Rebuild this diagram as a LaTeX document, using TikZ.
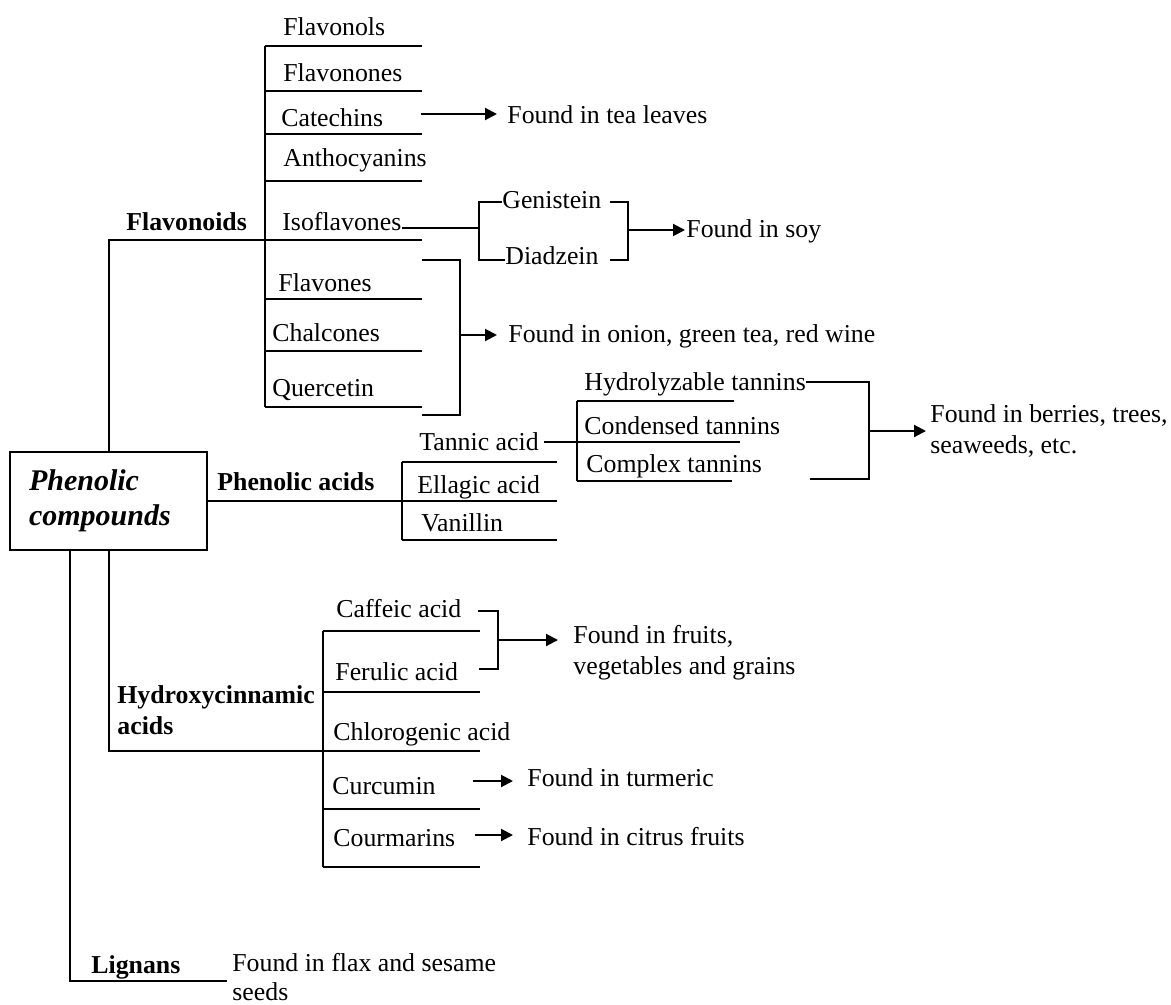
\documentclass[tikz,border=0pt]{standalone}
\usepackage{fontspec}
\setmainfont{Liberation Serif}
\usetikzlibrary{arrows.meta,positioning}
\tikzstyle{T} = [anchor=base west, inner sep=0pt,
			font=\fontsize{12.9}{15.5}\selectfont]
\tikzstyle{B} = [T, font=\fontsize{12.9}{15.5}\selectfont\bfseries]
\tikzstyle{N} = [T, anchor=west, align=left]
\tikzstyle{X} = [rectangle,
			draw, line width=1pt,
			minimum width=98.5pt, minimum height=49pt,
			inner xsep=9.5pt, text width=79.5pt, align=left,
			font=\fontsize{15}{17.5}\selectfont\bfseries\itshape]
\tikzstyle{L} = [draw, line width=1pt]
\tikzstyle{A} = [L, -{Triangle[length=6pt, width=6pt]}]

\begin{document}
\begin{tikzpicture}[x=0.5pt, y=-0.5pt]

\useasboundingbox (0,0) rectangle (1171,1005);

\node [X]
(box) at (108.5,501)
	{Phenolic\\compounds};

\node [B]
(flv) at (126,231)
	{Flavonoids};

\coordinate (flT) at (265,46);
\coordinate (flJ) at (265,240);
\coordinate (flB) at (265,407);

\path[L] (box.north) |- (flJ);

\path[L] (flT) -- (flB);

\node [T]
(fls) at (283,36)
	{Flavonols};

\node [T]
(fln) at (283,82)
	{Flavonones};

\node [T]
(cat) at (281,127)
	{Catechins};

\node [T]
(ant) at (283,167)
	{Anthocyanins};

\node [T]
(iso) at (282,231)
	{Isoflavones};

\node [T]
(fla) at (278,292)
	{Flavones};

\node [T]
(cha) at (272,342)
	{Chalcones};

\node [T]
(que) at (272,396)
	{Quercetin};

\path[L] (flT) -- (422,46);
\path[L] (265,91) -- (422,91);
\path[L] (265,134) -- (422,134);
\path[L] (265,181) -- (422,181);
\path[L] (flJ) -- (422,240);
\path[L] (265,299) -- (422,299);
\path[L] (265,351) -- (422,351);
\path[L] (flB) -- (422,407);

\node [T]
(tea) at (507,124)
	{Found in tea leaves};

\coordinate (catA) at (421,114);

\path[A, shorten >=5pt] (catA) -- (catA -| tea.west);

\node [T]
(gen) at (502,209)
	{Genistein};

\node [T]
(dia) at (505,265)
	{Diadzein};

\coordinate (isoJ) at (479,228);
\coordinate (gbT) at (479,202);
\coordinate (gbB) at (479,260);

\path[L] (iso.east |- isoJ) -- (isoJ);

\path[L] (gen.west |- gbT) -- (gbT) -- (gbB) -- (dia.west |- gbB);

\coordinate (grT) at (628,202);
\coordinate (grM) at (628,230);
\coordinate (grB) at (628,260);

\path[L] ([xshift=4pt]gen.east |- grT) -- (grT) -- (grB) -- ([xshift=5.5pt]dia.east |- grB);

\node [T]
(soy) at (686,238)
	{Found in soy};

\path[A, shorten >=0.5pt] (grM) -- (grM -| soy.west);

\coordinate (fbT) at (460,260);
\coordinate (fbM) at (460,335);
\coordinate (fbB) at (460,415);

\path[L] (422,260) -- (fbT) -- (fbB) -- (422,415);

\node [T]
(oni) at (508,343)
	{Found in onion, green tea, red wine};

\path[A, shorten >=5.5pt] (fbM) -- (fbM -| oni.west);

\node [B]
(pac) at (217,490)
	{Phenolic acids};

\coordinate (paT) at (402,462);
\coordinate (paJ) at (402,501);
\coordinate (paB) at (402,540);

\path[L] (box.east) -- (paJ);

\path[L] (paT) -- (paB);

\node [T]
(tan) at (419,450)
	{Tannic acid};

\node [T]
(ell) at (417,493)
	{Ellagic acid};

\node [T]
(van) at (421,531)
	{Vanillin};

\path[L] (paT) -- (557,462);
\path[L] (paJ) -- (557,501);
\path[L] (paB) -- (557,540);

\coordinate (tnT) at (577,401);
\coordinate (tnB) at (577,481);
\coordinate (tnR) at (740,442);

\path[L] (tnT) -- (tnB);

\path[L] ([xshift=2.5pt]tan.east |- tnR) -- (tnR);

\node [T]
(hyd) at (584,390)
	{Hydrolyzable tannins};

\node [T]
(cnd) at (584,434)
	{Condensed tannins};

\node [T]
(cpx) at (586,472)
	{Complex tannins};

\path[L] (tnT) -- (734,401);
\path[L] (tnB) -- (732,481);

\coordinate (hbT) at (869,382);
\coordinate (hbM) at (869,431);
\coordinate (hbB) at (869,479);

\path[L] (hyd.east |- hbT) -- (hbT) -- (hbB) -- (810,479);

\node [N]
(ber) at (930,431)
	{Found in berries, trees,\\seaweeds, etc.};

\path[A, shorten >=2pt] (hbM) -- (hbM -| ber.west);

\node [B, anchor=west, align=left]
(hcn) at (117,710)
	{Hydroxycinnamic\\acids};

\coordinate (hcT) at (323,631);
\coordinate (hcJ) at (323,751);
\coordinate (hcB) at (323,867);

\path[L] (box.south) |- (hcJ);

\path[L] (hcT) -- (hcB);

\node [T]
(caf) at (336,617)
	{Caffeic acid};

\node [T]
(fer) at (335,680)
	{Ferulic acid};

\node [T]
(chl) at (333,740)
	{Chlorogenic acid};

\node [T]
(cur) at (332,794)
	{Curcumin};

\node [T]
(cou) at (333,846)
	{Courmarins};

\path[L] (hcT) -- (480,631);
\path[L] (323,692) -- (480,692);
\path[L] (hcJ) -- (480,751);
\path[L] (323,809) -- (480,809);
\path[L] (hcB) -- (480,867);

\coordinate (cbT) at (498,611);
\coordinate (cbM) at (498,640);
\coordinate (cbB) at (498,669);

\path[L] ([xshift=8pt]caf.east |- cbT) -- (cbT) -- (cbB) -- ([xshift=10.5pt]fer.east |- cbB);

\node [N]
(fru) at (573,653)
	{Found in fruits,\\vegetables and grains};

\path[A, shorten >=7.5pt] (cbM) -- (cbM -| fru.west);

\node [T]
(tur) at (527,786)
	{Found in turmeric};

\node [T]
(cit) at (527,845)
	{Found in citrus fruits};

\coordinate (curA) at (473,781);
\coordinate (couA) at (475,835);

\path[A, shorten >=7pt] (curA) -- (curA -| tur.west);

\path[A, shorten >=7pt] (couA) -- (couA -| cit.west);

\coordinate (lgC) at (70,981);
\coordinate (lgE) at (227,981);

\path[L] (box.south -| lgC) -- (lgC) -- (lgE);

\node [B]
(lig) at (91,973)
	{Lignans};

\node [N, font=\fontsize{12.9}{14.5}\selectfont]
(flx) at (232,977)
	{Found in flax and sesame\\seeds};

\end{tikzpicture}
\end{document}
